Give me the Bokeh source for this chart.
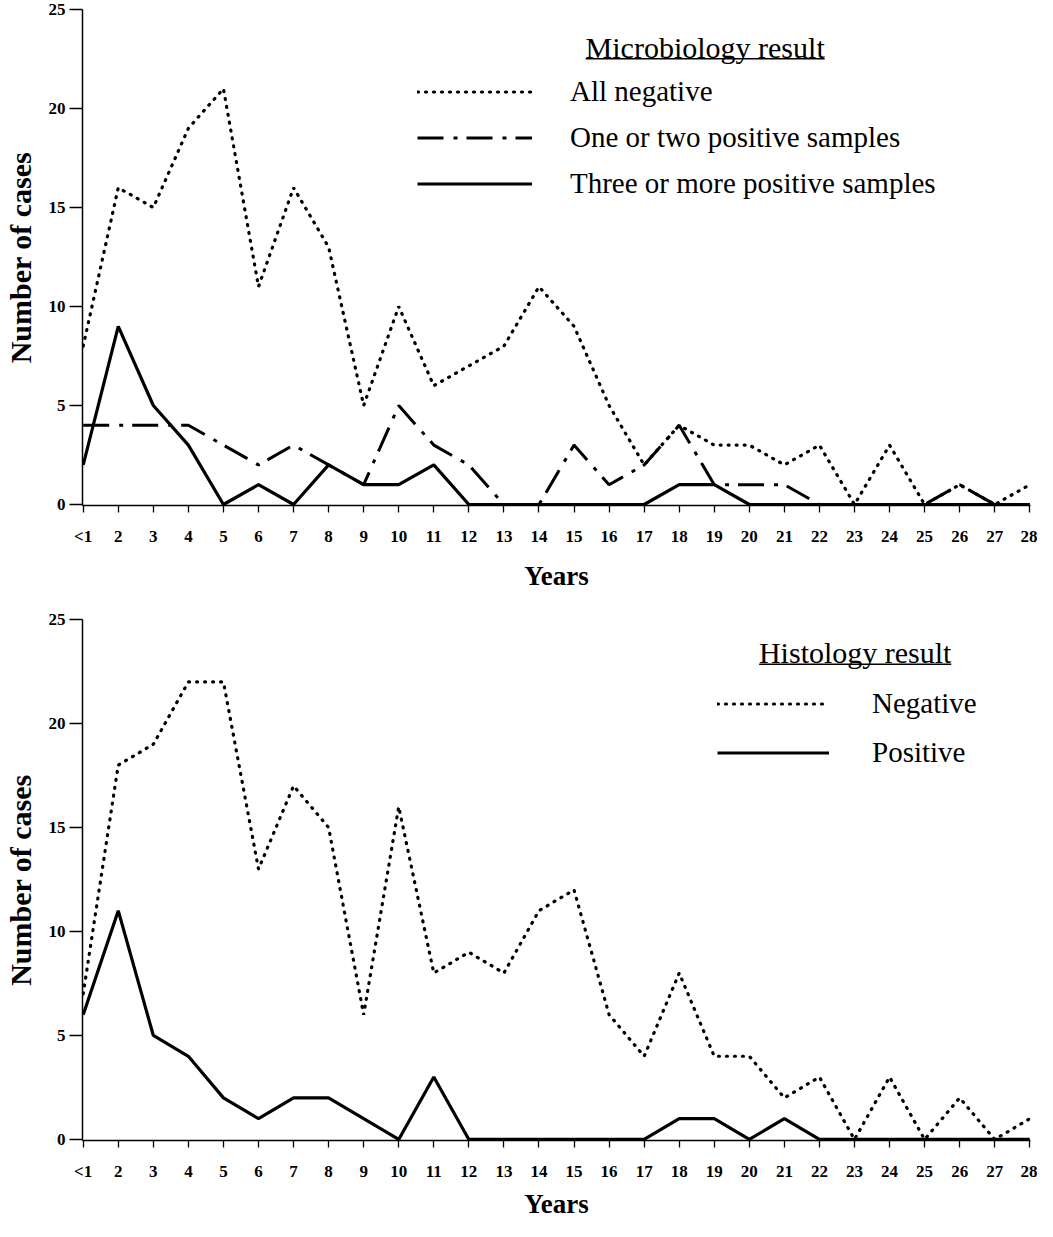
from bokeh.plotting import figure
from bokeh.models import (Range1d, FixedTicker, Legend, LegendItem, Label,
                          BoxAnnotation, ColumnDataSource)
from bokeh.layouts import column
from bokeh.embed import file_html
from bokeh.resources import INLINE

# ---------------- data ----------------
years = ["<1"] + [str(i) for i in range(2, 29)]
y_ticks = [0, 5, 10, 15, 20, 25]

micro_all_negative = [8, 16, 15, 19, 21, 11, 16, 13, 5, 10, 6, 7, 8, 11, 9,
                      5, 2, 4, 3, 3, 2, 3, 0, 3, 0, 1, 0, 1]
micro_one_or_two = [4, 4, 4, 4, 3, 2, 3, 2, 1, 5, 3, 2, 0, 0, 3,
                    1, 2, 4, 1, 1, 1, 0, 0, 0, 0, 1, 0, 0]
micro_three_plus = [2, 9, 5, 3, 0, 1, 0, 2, 1, 1, 2, 0, 0, 0, 0,
                    0, 0, 1, 1, 0, 0, 0, 0, 0, 0, 0, 0, 0]

histo_negative = [7, 18, 19, 22, 22, 13, 17, 15, 6, 16, 8, 9, 8, 11, 12,
                  6, 4, 8, 4, 4, 2, 3, 0, 3, 0, 2, 0, 1]
histo_positive = [6, 11, 5, 4, 2, 1, 2, 2, 1, 0, 3, 0, 0, 0, 0,
                  0, 0, 1, 1, 0, 1, 0, 0, 0, 0, 0, 0, 0]

SERIF = "Liberation Serif"
DOT = dict(line_dash="1 7", line_cap="round", line_width=3.2, line_color="black")
DASHDOT = dict(line_dash="26 10 4 9", line_width=3, line_color="black")
SOLID = dict(line_width=3.2, line_color="black")


def make_fig(height, min_top, min_bottom, xlab_standoff, tick_standoff):
    p = figure(width=1037, height=height,
               x_range=Range1d(-0.02, len(years) - 1 + 0.02),
               y_range=Range1d(-0.05, 25),
               output_backend="svg", toolbar_location=None,
               min_border_left=82, min_border_right=7,
               min_border_top=min_top, min_border_bottom=min_bottom)
    p.outline_line_color = None
    p.grid.visible = False
    p.background_fill_color = "white"
    p.border_fill_color = "white"

    xa = p.xaxis[0]
    xa.ticker = FixedTicker(ticks=list(range(len(years))))
    xa.major_label_overrides = {i: lab for i, lab in enumerate(years)}
    ya = p.yaxis[0]
    ya.ticker = FixedTicker(ticks=y_ticks)

    for ax in (xa, ya):
        ax.axis_line_width = 1.5
        ax.axis_line_color = "black"
        ax.major_tick_line_color = "black"
        ax.major_tick_line_width = 1.3
        ax.major_tick_in = 0
        ax.minor_tick_line_color = None
        ax.major_label_text_font = SERIF
        ax.major_label_text_font_style = "bold"
        ax.major_label_text_font_size = "17px"
        ax.major_label_text_color = "black"
        ax.axis_label_text_font = SERIF
        ax.axis_label_text_font_style = "bold"
        ax.axis_label_text_color = "black"

    xa.major_tick_out = 7
    xa.major_label_standoff = tick_standoff
    xa.axis_label = "Years"
    xa.axis_label_text_font_size = "27px"
    xa.axis_label_standoff = xlab_standoff

    ya.major_tick_out = 13
    ya.major_label_standoff = 4
    ya.axis_label = "Number of cases"
    ya.axis_label_text_font_size = "30px"
    ya.axis_label_standoff = 9
    return p


x = list(range(len(years)))

# ---------------- top: microbiology ----------------
p1 = make_fig(600, 9, 95, 12, 14)
src1 = ColumnDataSource(dict(x=x, neg=micro_all_negative,
                             one=micro_one_or_two, three=micro_three_plus))
r_neg = p1.line("x", "neg", source=src1, **DOT)
r_one = p1.line("x", "one", source=src1, **DASHDOT)
r_three = p1.line("x", "three", source=src1, **SOLID)

leg1 = Legend(items=[LegendItem(label="All negative", renderers=[r_neg]),
                     LegendItem(label="One or two positive samples", renderers=[r_one]),
                     LegendItem(label="Three or more positive samples", renderers=[r_three])],
              location=(335, 305), glyph_width=115, glyph_height=33,
              label_height=33, spacing=13, label_standoff=38,
              padding=0, margin=0, border_line_color=None,
              background_fill_alpha=0, label_text_font=SERIF,
              label_text_font_size="29px", label_text_color="black")
p1.add_layout(leg1)
p1.add_layout(Label(x=17.74, y=23.08, text="Microbiology result",
                    text_align="center", text_baseline="alphabetic",
                    text_font=SERIF, text_font_size="30px", text_color="black"))
p1.add_layout(BoxAnnotation(left=14.33, right=21.15, bottom=22.48, top=22.555,
                            fill_color="black", fill_alpha=1, line_color=None))

# ---------------- bottom: histology ----------------
p2 = make_fig(621, 19, 77, 5, 14)
src2 = ColumnDataSource(dict(x=x, neg=histo_negative, pos=histo_positive))
r_hneg = p2.line("x", "neg", source=src2, **DOT)
r_hpos = p2.line("x", "pos", source=src2, **SOLID)

leg2 = Legend(items=[LegendItem(label="Negative", renderers=[r_hneg]),
                     LegendItem(label="Positive", renderers=[r_hpos])],
              location=(635, 371), glyph_width=112, glyph_height=33,
              label_height=33, spacing=16, label_standoff=43,
              padding=0, margin=0, border_line_color=None,
              background_fill_alpha=0, label_text_font=SERIF,
              label_text_font_size="29px", label_text_color="black")
p2.add_layout(leg2)
p2.add_layout(Label(x=22.02, y=23.43, text="Histology result",
                    text_align="center", text_baseline="alphabetic",
                    text_font=SERIF, text_font_size="30px", text_color="black"))
p2.add_layout(BoxAnnotation(left=19.28, right=24.76, bottom=22.81, top=22.88,
                            fill_color="black", fill_alpha=1, line_color=None))

layout = column(p1, p2, spacing=0)
open("out.html", "w").write(file_html(layout, INLINE))
